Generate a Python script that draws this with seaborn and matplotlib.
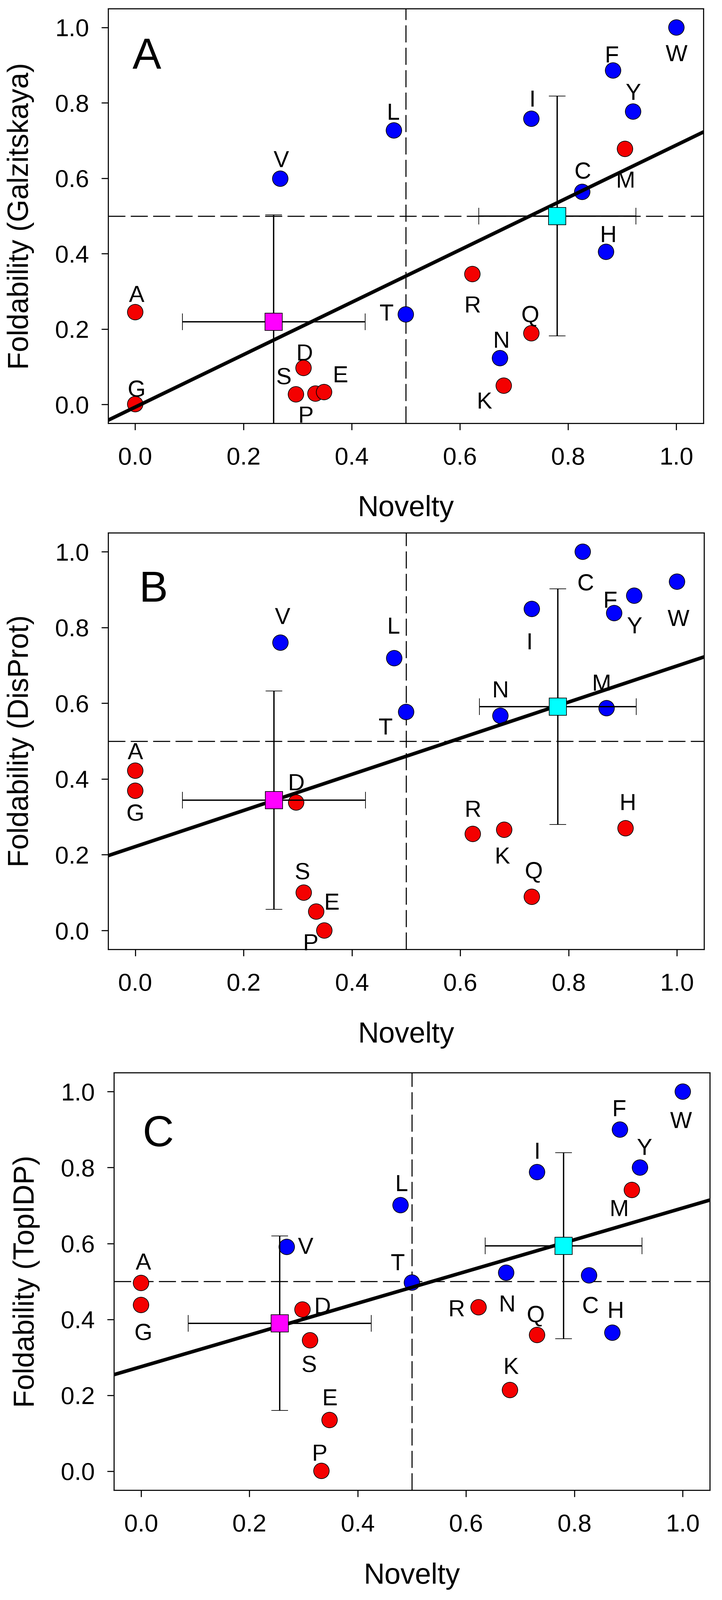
import pandas as pd
import seaborn as sns
import matplotlib.pyplot as plt

residues = ['A', 'G', 'D', 'S', 'P', 'E', 'V', 'L', 'T', 'R',
            'N', 'K', 'I', 'Q', 'C', 'H', 'F', 'M', 'Y', 'W']

# panel A - Galzitskaya
novelty_a = [0.0, 0.0, 0.311, 0.297, 0.333, 0.349, 0.268, 0.478, 0.500, 0.623,
             0.674, 0.681, 0.732, 0.732, 0.826, 0.870, 0.883, 0.905, 0.920, 1.000]
fold_a = [0.245, 0.001, 0.097, 0.027, 0.029, 0.033, 0.599, 0.727, 0.239, 0.346,
          0.123, 0.050, 0.758, 0.189, 0.564, 0.405, 0.886, 0.678, 0.777, 1.000]
group_a = ['red', 'red', 'red', 'red', 'red', 'red', 'blue', 'blue', 'blue', 'red',
           'blue', 'red', 'blue', 'red', 'blue', 'blue', 'blue', 'red', 'blue', 'blue']

# panel B - DisProt
novelty_b = [0.0, 0.0, 0.297, 0.311, 0.349, 0.334, 0.268, 0.478, 0.500, 0.623,
             0.674, 0.681, 0.732, 0.732, 0.826, 0.905, 0.884, 0.870, 0.921, 1.000]
fold_b = [0.422, 0.369, 0.338, 0.100, 0.000, 0.050, 0.760, 0.719, 0.577, 0.255,
          0.567, 0.266, 0.849, 0.089, 1.000, 0.270, 0.838, 0.587, 0.884, 0.921]
group_b = ['red', 'red', 'red', 'red', 'red', 'red', 'blue', 'blue', 'blue', 'red',
           'blue', 'red', 'blue', 'red', 'blue', 'red', 'blue', 'blue', 'blue', 'blue']

# panel C - TopIDP
novelty_c = [0.0, 0.0, 0.298, 0.312, 0.333, 0.348, 0.269, 0.479, 0.500, 0.623,
             0.674, 0.681, 0.731, 0.731, 0.827, 0.870, 0.884, 0.906, 0.921, 1.000]
fold_c = [0.496, 0.438, 0.426, 0.345, 0.001, 0.135, 0.591, 0.701, 0.497, 0.432,
          0.523, 0.214, 0.788, 0.359, 0.516, 0.365, 0.900, 0.741, 0.800, 1.000]
group_c = group_a

# group means +- sd (magenta = low novelty, cyan = high novelty)
low_x = [0.256, 0.256, 0.256]
low_xsd = [0.169, 0.169, 0.169]
low_y = [0.219, 0.344, 0.390]
low_ysd = [0.284, 0.288, 0.230]
high_x = [0.780, 0.780, 0.780]
high_xsd = [0.145, 0.145, 0.145]
high_y = [0.500, 0.591, 0.594]
high_ysd = [0.318, 0.311, 0.245]

panel_names = ['A', 'B', 'C']
ylabels = ['Foldability (Galzitskaya)', 'Foldability (DisProt)', 'Foldability (TopIDP)']
ticks = [0.0, 0.2, 0.4, 0.6, 0.8, 1.0]
tick_labels = ['0.0', '0.2', '0.4', '0.6', '0.8', '1.0']

# label offsets (pixels, up = positive)
offsets_a = {'W': (0, -79), 'F': (-4, 51), 'Y': (0, 62), 'M': (1, -95), 'I': (3, 64),
             'L': (-3, 59), 'V': (3, 62), 'C': (1, 68), 'H': (6, 56), 'R': (0, -94),
             'T': (-61, 7), 'Q': (-4, 61), 'N': (4, 59), 'K': (-61, -46), 'A': (4, 58),
             'G': (4, 50), 'D': (3, 49), 'S': (-38, 58), 'E': (51, 56), 'P': (-30, -65)}
offsets_b = {'C': (9, -94), 'W': (4, -112), 'F': (-13, 43), 'Y': (1, -92), 'I': (-7, -100),
             'V': (7, 84), 'L': (-3, 103), 'T': (-65, -44), 'N': (0, 83), 'M': (-16, 81),
             'A': (0, 62), 'G': (0, -67), 'D': (0, 64), 'R': (0, 79), 'K': (-6, -80),
             'H': (7, 83), 'Q': (6, 84), 'S': (-4, 68), 'E': (48, 32), 'P': (-43, -36)}
offsets_c = {'W': (-6, -88), 'F': (-3, 68), 'Y': (14, 65), 'M': (-40, -56), 'I': (0, 68),
             'L': (3, 70), 'V': (59, 4), 'T': (-45, 65), 'N': (3, -95), 'C': (4, -91),
             'H': (10, 72), 'A': (7, 68), 'G': (7, -83), 'D': (62, 13), 'S': (-3, -73),
             'E': (0, 72), 'P': (-6, 58), 'R': (-69, -2), 'Q': (-4, 67), 'K': (3, 76)}

sns.set_theme(style='ticks')
plt.rcParams['font.family'] = ['Liberation Sans', 'DejaVu Sans']
plt.rcParams['text.color'] = 'black'

fig = plt.figure(figsize=(22.56, 49.97), dpi=100)
rects = [[0.1498, 0.7354, 0.8245, 0.2592],
         [0.1498, 0.4066, 0.8254, 0.2604],
         [0.1578, 0.0686, 0.8254, 0.2610]]
letter_pos = [(0.041, 0.856), (0.052, 0.835), (0.048, 0.824)]

panels = [(novelty_a, fold_a, group_a, offsets_a),
          (novelty_b, fold_b, group_b, offsets_b),
          (novelty_c, fold_c, group_c, offsets_c)]

for i, (nov, fold, grp, offs) in enumerate(panels):
    ax = fig.add_axes(rects[i])
    ax.set_xlim(-0.05, 1.05)
    ax.set_ylim(-0.05, 1.05)

    ax.axhline(0.5, color='black', lw=2.4, ls=(0, (16, 5)), zorder=1)
    ax.axvline(0.5, color='black', lw=2.4, ls=(0, (16, 5)), zorder=1)

    df = pd.DataFrame({'Novelty': nov, 'Foldability': fold, 'group': grp, 'res': residues})
    sns.scatterplot(data=df, x='Novelty', y='Foldability', hue='group',
                    palette={'red': '#f40000', 'blue': '#0000ff'}, s=1225,
                    edgecolor='black', linewidth=1.5, legend=False, ax=ax, zorder=3)
    sns.regplot(data=df, x='Novelty', y='Foldability', scatter=False, ci=None,
                truncate=False, ax=ax,
                line_kws=dict(color='black', lw=8, zorder=4, solid_capstyle='round'))

    ax.errorbar(low_x[i], low_y[i], xerr=low_xsd[i], yerr=low_ysd[i], fmt='s', ms=39,
                mfc='#ff00ff', mec='black', mew=1.5, ecolor='black', elinewidth=3,
                capsize=19, capthick=3, zorder=5)
    ax.errorbar(high_x[i], high_y[i], xerr=high_xsd[i], yerr=high_ysd[i], fmt='s', ms=39,
                mfc='#00ffff', mec='black', mew=1.5, ecolor='black', elinewidth=3,
                capsize=19, capthick=3, zorder=5)

    for r, x, y in zip(residues, nov, fold):
        dx, dy = offs[r]
        ax.annotate(r, (x, y), xytext=(dx, dy), textcoords='offset pixels',
                    ha='center', va='center_baseline', fontsize=52, color='black', zorder=6)

    ax.set_xlim(-0.05, 1.05)
    ax.set_ylim(-0.05, 1.05)
    ax.set_xticks(ticks)
    ax.set_xticklabels(tick_labels)
    ax.set_yticks(ticks)
    ax.set_yticklabels(tick_labels)
    ax.tick_params(direction='out', length=15, width=2.4, labelsize=55, color='black',
                   labelcolor='black', top=False, right=False)
    ax.tick_params(axis='x', pad=38)
    ax.tick_params(axis='y', pad=28)
    for sp in ax.spines.values():
        sp.set_linewidth(2.4)
        sp.set_color('black')
        sp.set_visible(True)

    ax.set_xlabel('Novelty', fontsize=65, color='black')
    ax.set_ylabel(ylabels[i], fontsize=65, color='black')
    ax.xaxis.set_label_coords(0.5, -0.173)
    ax.yaxis.set_label_coords(-0.124, 0.5)

    ax.text(letter_pos[i][0], letter_pos[i][1], panel_names[i], transform=ax.transAxes,
            ha='left', va='baseline', fontsize=97, color='black')

fig.savefig('out.png', dpi=100)
